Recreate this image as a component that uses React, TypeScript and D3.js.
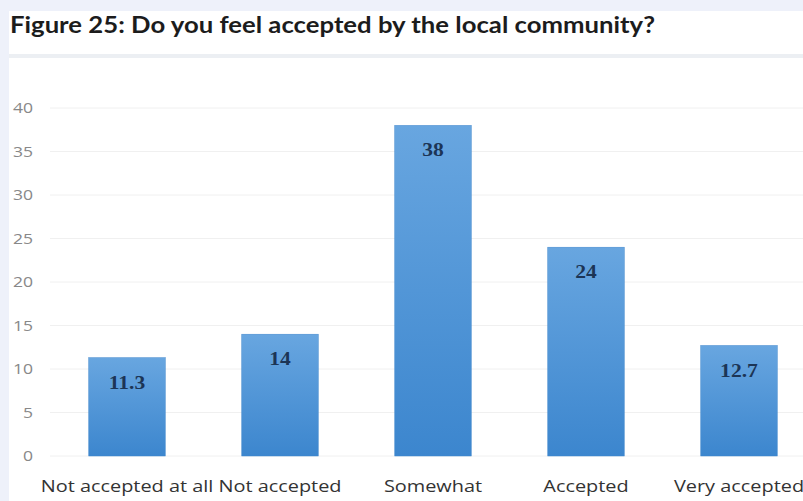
import React from "react";
import * as d3 from "d3";

const categories = ["Not accepted at all", "Not accepted", "Somewhat", "Accepted", "Very accepted"];
const values = [11.3, 14, 38, 24, 12.7];
const valueLabels = ["11.3", "14", "38", "24", "12.7"];
const yTicks = [0, 5, 10, 15, 20, 25, 30, 35, 40];
const title = "Figure 25: Do you feel accepted by the local community?";

const W = 803;
const H = 501;
const SX = 1.17;

export default function App() {
  const x = d3
    .scaleBand<string>()
    .domain(categories)
    .range([50.5, 815.5])
    .paddingInner(0.5)
    .paddingOuter(0.25);
  const y = d3.scaleLinear().domain([0, 40]).range([456, 108]);

  return (
    <div style={{ position: "fixed", left: 0, top: 0, width: W, height: H }}>
      <svg width={W} height={H} style={{ display: "block" }}>
        <defs>
          <linearGradient id="barGrad" x1="0" y1="0" x2="0" y2="1">
            <stop offset="0%" stopColor="#68a6e0" />
            <stop offset="100%" stopColor="#3c86ce" />
          </linearGradient>
        </defs>
        <rect x={0} y={0} width={W} height={H} fill="#eef1fa" />
        <rect x={9} y={11} width={W - 9} height={H - 11} fill="#ffffff" />
        <text
          x={10}
          y={33}
          fontFamily="Lato, 'Open Sans', sans-serif"
          fontWeight={700}
          fontSize={22}
          fill="#1c1c1c"
          textLength={645}
          lengthAdjust="spacingAndGlyphs"
        >
          {title}
        </text>
        <rect x={9} y={54} width={W - 9} height={4} fill="#eceff3" />
        {yTicks.map((t) => (
          <g key={t}>
            <line x1={50} x2={W} y1={y(t)} y2={y(t)} stroke="#f0f0f0" strokeWidth={1} />
            <text
              transform={`translate(33,${y(t)}) scale(${SX},1)`}
              dy="0.35em"
              textAnchor="end"
              fontFamily="'Open Sans', sans-serif"
              fontSize={15}
              fill="#888888"
            >
              {t}
            </text>
          </g>
        ))}
        {categories.map((c, i) => {
          const cx = x(c)! + x.bandwidth() / 2;
          return (
            <g key={c}>
              <rect
                x={x(c)!}
                y={y(values[i])}
                width={x.bandwidth()}
                height={y(0) - y(values[i])}
                fill="url(#barGrad)"
                stroke="#3f86cc"
                strokeWidth={0.5}
              />
              <text
                transform={`translate(${cx},${y(values[i]) + 31}) scale(1.2,1)`}
                textAnchor="middle"
                fontFamily="'Liberation Serif', serif"
                fontWeight={700}
                fontSize={18}
                fill="#1c3556"
              >
                {valueLabels[i]}
              </text>
              <text
                transform={`translate(${cx},492) scale(${SX},1)`}
                textAnchor="middle"
                fontFamily="'Open Sans', sans-serif"
                fontSize={17}
                fill="#333"
              >
                {c}
              </text>
            </g>
          );
        })}
      </svg>
    </div>
  );
}
